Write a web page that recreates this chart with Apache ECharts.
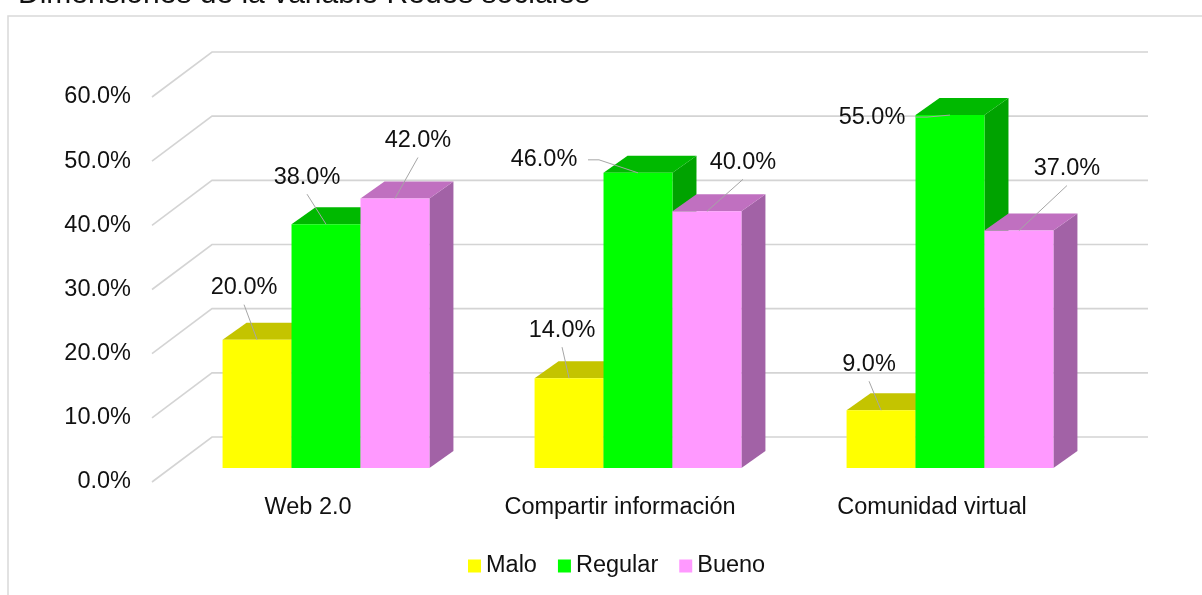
<!DOCTYPE html>
<html>
<head>
<meta charset="utf-8">
<script src="https://cdn.jsdelivr.net/npm/echarts@6/dist/echarts.min.js"></script>
<style>
  html, body { margin: 0; padding: 0; background: #fff; }
  #main { width: 1202px; height: 595px; }
</style>
</head>
<body>
<div id="main"></div>
<script>
// data
var categories = ['Web 2.0', 'Compartir información', 'Comunidad virtual'];
var malo = [20.0, 14.0, 9.0];
var regular = [38.0, 46.0, 55.0];
var bueno = [42.0, 40.0, 37.0];
var yTicks = [0, 10, 20, 30, 40, 50, 60];

// where excel left each data label, relative to the bar's front top centre
var labelShift = {
  Malo: [[-13, -52], [-7, -48], [-12, -46]],
  Regular: [[-19, -47], [-94, -13], [-78, 2]],
  Bueno: [[23, -58], [36, -49], [48, -62]]
};

var FONT = '"Liberation Sans", Arial, sans-serif';
var FS = 23.5;
// 3d look
var WALL_DX = 60, WALL_DY = -45;   // depth of the back wall
var BAR_DX = 18, BAR_DY = -14;     // bars sit in the middle of the floor
var DEP_DX = 24, DEP_DY = -17;     // depth of each bar

var chart = echarts.init(document.getElementById('main'));

function gridLines(params, api) {
  var cs = params.coordSys;
  var y = api.coord([0, api.value(1)])[1];
  var x = cs.x;
  return {
    type: 'polyline',
    shape: { points: [[x, y], [x + WALL_DX, y + WALL_DY], [x + cs.width + WALL_DX, y + WALL_DY]] },
    style: { stroke: '#d4d4d4', lineWidth: 1.6, fill: null },
    silent: true
  };
}

function barSeries(name, values, k, c) {
  return {
    type: 'custom',
    name: name,
    data: values.map(function (v, i) { return [i, v]; }),
    encode: { x: 0, y: 1 },
    itemStyle: { color: c.front },
    renderItem: function (params, api) {
      var ci = api.value(0), v = api.value(1);
      var base = api.coord([ci, 0]);
      var top = api.coord([ci, v]);
      var bw = api.size([1, 0])[0] * 0.221;
      var x0 = base[0] - 1.5 * bw + k * bw + BAR_DX;
      var x1 = x0 + bw;
      var yb = base[1] + BAR_DY, yt = top[1] + BAR_DY;
      var tx = (x0 + x1) / 2, ty = yt;
      var sh = labelShift[name][params.dataIndex];
      var lx = tx + sh[0], ly = ty + sh[1];
      var pts;
      if (Math.abs(sh[0]) > 60) {
        pts = [[lx + 44, ly], [lx + 55, ly], [tx, ty]];
      } else {
        pts = [[lx, ly + 17], [tx, ty]];
      }
      return {
        type: 'group',
        children: [
          { type: 'polygon', shape: { points: [[x1, yt], [x1 + DEP_DX, yt + DEP_DY], [x1 + DEP_DX, yb + DEP_DY], [x1, yb]] },
            style: { fill: c.side } },
          { type: 'polygon', shape: { points: [[x0, yt], [x1, yt], [x1 + DEP_DX, yt + DEP_DY], [x0 + DEP_DX, yt + DEP_DY]] },
            style: { fill: c.top } },
          { type: 'rect', shape: { x: x0, y: yt, width: bw, height: yb - yt },
            style: { fill: c.front } },
          { type: 'polyline', shape: { points: pts },
            style: { stroke: '#a6a6a6', lineWidth: 1, fill: null } },
          { type: 'text', style: { text: v.toFixed(1) + '%', x: lx, y: ly, align: 'center', verticalAlign: 'middle',
            fontSize: FS, fontFamily: FONT, fill: '#111' } }
        ]
      };
    }
  };
}

var option = {
  animation: false,
  backgroundColor: '#fff',
  title: {
    text: 'Dimensiones de la variable Redes sociales',
    left: 18, top: -20, padding: 0,
    textStyle: { fontSize: 30, fontWeight: 'normal', fontFamily: FONT, color: '#111' }
  },
  graphic: [{
    type: 'rect', z: -10,
    shape: { x: 8, y: 16, width: 1400, height: 800 },
    style: { fill: 'none', stroke: '#d9d9d9', lineWidth: 1.5 }
  }],
  legend: {
    left: 468, top: 554, padding: 0,
    icon: 'rect', itemWidth: 13, itemHeight: 13, itemGap: 21,
    textStyle: { fontSize: FS, fontFamily: FONT, color: '#111' },
    data: ['Malo', 'Regular', 'Bueno']
  },
  grid: { left: 152, right: 114, top: 97, bottom: 113 },
  xAxis: {
    type: 'category', data: categories,
    axisLine: { show: false }, axisTick: { show: false },
    axisLabel: { margin: 14, fontSize: FS, fontFamily: FONT, color: '#111' }
  },
  yAxis: {
    type: 'value', min: 0, max: 60, interval: 10,
    axisLine: { show: false }, axisTick: { show: false }, splitLine: { show: false },
    axisLabel: { margin: 21, fontSize: FS, fontFamily: FONT, color: '#111',
      formatter: function (v) { return v.toFixed(1) + '%'; } }
  },
  series: [
    { type: 'custom', name: 'walls', data: yTicks.map(function (t) { return [0, t]; }),
      encode: { x: 0, y: 1 }, renderItem: gridLines, silent: true },
    barSeries('Malo', malo, 0, { front: '#ffff00', top: '#c4c400', side: '#a0a000' }),
    barSeries('Regular', regular, 1, { front: '#00ff00', top: '#00b900', side: '#00a300' }),
    barSeries('Bueno', bueno, 2, { front: '#ff99ff', top: '#c070c0', side: '#a262a6' })
  ]
};
chart.setOption(option);
</script>
</body>
</html>
